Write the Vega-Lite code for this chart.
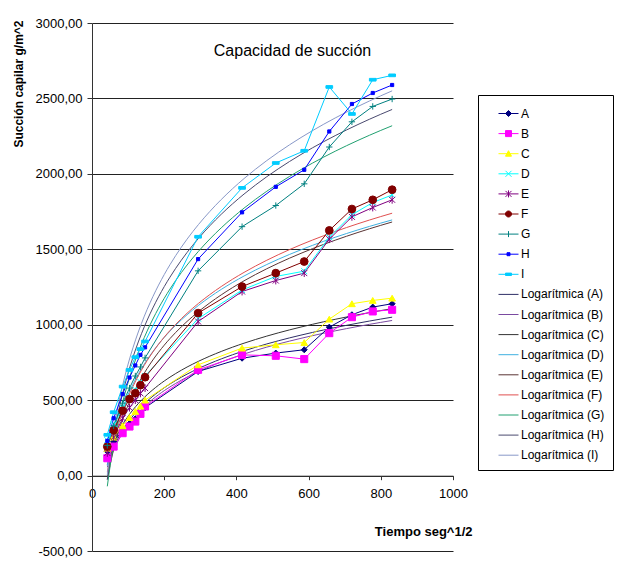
{
  "$schema": "https://vega.github.io/schema/vega-lite/v6.json",
  "width": 361,
  "height": 528,
  "autosize": {"type": "none"},
  "padding": {"left": 92, "top": 23, "right": 168, "bottom": 31},
  "background": "white",
  "config": {"font": "Liberation Sans", "view": {"stroke": null}},
  "title": {"text": "Capacidad de succión", "fontSize": 16, "fontWeight": "normal", "font": "Liberation Sans", "frame": "group", "anchor": "middle", "baseline": "middle", "offset": 0, "dx": 20, "dy": 50, "color": "black"},
  "datasets": {
    "d": [
      {"s":"A","t":"Logarítmica (A)","x":42.4,"y":160},{"s":"A","t":"Logarítmica (A)","x":60,"y":225},{"s":"A","t":"Logarítmica (A)","x":84.9,"y":300},{"s":"A","t":"Logarítmica (A)","x":103.9,"y":343},{"s":"A","t":"Logarítmica (A)","x":120,"y":375},{"s":"A","t":"Logarítmica (A)","x":134.2,"y":410},{"s":"A","t":"Logarítmica (A)","x":147,"y":450},{"s":"A","t":"Logarítmica (A)","x":293.9,"y":690},{"s":"A","t":"Logarítmica (A)","x":415.7,"y":778},{"s":"A","t":"Logarítmica (A)","x":509.1,"y":812},{"s":"A","t":"Logarítmica (A)","x":587.9,"y":834},{"s":"A","t":"Logarítmica (A)","x":657.3,"y":984},{"s":"A","t":"Logarítmica (A)","x":720,"y":1066},{"s":"A","t":"Logarítmica (A)","x":777.7,"y":1117},{"s":"A","t":"Logarítmica (A)","x":831.4,"y":1139},
      {"s":"B","t":"Logarítmica (B)","x":42.4,"y":115},{"s":"B","t":"Logarítmica (B)","x":60,"y":192},{"s":"B","t":"Logarítmica (B)","x":84.9,"y":281},{"s":"B","t":"Logarítmica (B)","x":103.9,"y":325},{"s":"B","t":"Logarítmica (B)","x":120,"y":358},{"s":"B","t":"Logarítmica (B)","x":134.2,"y":409},{"s":"B","t":"Logarítmica (B)","x":147,"y":458},{"s":"B","t":"Logarítmica (B)","x":293.9,"y":701},{"s":"B","t":"Logarítmica (B)","x":415.7,"y":800},{"s":"B","t":"Logarítmica (B)","x":509.1,"y":794},{"s":"B","t":"Logarítmica (B)","x":587.9,"y":772},{"s":"B","t":"Logarítmica (B)","x":657.3,"y":944},{"s":"B","t":"Logarítmica (B)","x":720,"y":1050},{"s":"B","t":"Logarítmica (B)","x":777.7,"y":1088},{"s":"B","t":"Logarítmica (B)","x":831.4,"y":1099},
      {"s":"C","t":"Logarítmica (C)","x":42.4,"y":180},{"s":"C","t":"Logarítmica (C)","x":60,"y":255},{"s":"C","t":"Logarítmica (C)","x":84.9,"y":330},{"s":"C","t":"Logarítmica (C)","x":103.9,"y":385},{"s":"C","t":"Logarítmica (C)","x":120,"y":425},{"s":"C","t":"Logarítmica (C)","x":134.2,"y":460},{"s":"C","t":"Logarítmica (C)","x":147,"y":500},{"s":"C","t":"Logarítmica (C)","x":293.9,"y":734},{"s":"C","t":"Logarítmica (C)","x":415.7,"y":845},{"s":"C","t":"Logarítmica (C)","x":509.1,"y":867},{"s":"C","t":"Logarítmica (C)","x":587.9,"y":882},{"s":"C","t":"Logarítmica (C)","x":657.3,"y":1037},{"s":"C","t":"Logarítmica (C)","x":720,"y":1139},{"s":"C","t":"Logarítmica (C)","x":777.7,"y":1161},{"s":"C","t":"Logarítmica (C)","x":831.4,"y":1176},
      {"s":"D","t":"Logarítmica (D)","x":42.4,"y":235},{"s":"D","t":"Logarítmica (D)","x":60,"y":340},{"s":"D","t":"Logarítmica (D)","x":84.9,"y":450},{"s":"D","t":"Logarítmica (D)","x":103.9,"y":520},{"s":"D","t":"Logarítmica (D)","x":120,"y":570},{"s":"D","t":"Logarítmica (D)","x":134.2,"y":620},{"s":"D","t":"Logarítmica (D)","x":147,"y":660},{"s":"D","t":"Logarítmica (D)","x":293.9,"y":1040},{"s":"D","t":"Logarítmica (D)","x":415.7,"y":1230},{"s":"D","t":"Logarítmica (D)","x":509.1,"y":1320},{"s":"D","t":"Logarítmica (D)","x":587.9,"y":1355},{"s":"D","t":"Logarítmica (D)","x":657.3,"y":1580},{"s":"D","t":"Logarítmica (D)","x":720,"y":1729},{"s":"D","t":"Logarítmica (D)","x":777.7,"y":1810},{"s":"D","t":"Logarítmica (D)","x":831.4,"y":1860},
      {"s":"E","t":"Logarítmica (E)","x":42.4,"y":150},{"s":"E","t":"Logarítmica (E)","x":60,"y":255},{"s":"E","t":"Logarítmica (E)","x":84.9,"y":380},{"s":"E","t":"Logarítmica (E)","x":103.9,"y":450},{"s":"E","t":"Logarítmica (E)","x":120,"y":500},{"s":"E","t":"Logarítmica (E)","x":134.2,"y":545},{"s":"E","t":"Logarítmica (E)","x":147,"y":580},{"s":"E","t":"Logarítmica (E)","x":293.9,"y":1021},{"s":"E","t":"Logarítmica (E)","x":415.7,"y":1220},{"s":"E","t":"Logarítmica (E)","x":509.1,"y":1293},{"s":"E","t":"Logarítmica (E)","x":587.9,"y":1342},{"s":"E","t":"Logarítmica (E)","x":657.3,"y":1567},{"s":"E","t":"Logarítmica (E)","x":720,"y":1715},{"s":"E","t":"Logarítmica (E)","x":777.7,"y":1777},{"s":"E","t":"Logarítmica (E)","x":831.4,"y":1828},
      {"s":"F","t":"Logarítmica (F)","x":42.4,"y":192},{"s":"F","t":"Logarítmica (F)","x":60,"y":300},{"s":"F","t":"Logarítmica (F)","x":84.9,"y":430},{"s":"F","t":"Logarítmica (F)","x":103.9,"y":507},{"s":"F","t":"Logarítmica (F)","x":120,"y":546},{"s":"F","t":"Logarítmica (F)","x":134.2,"y":599},{"s":"F","t":"Logarítmica (F)","x":147,"y":652},{"s":"F","t":"Logarítmica (F)","x":293.9,"y":1077},{"s":"F","t":"Logarítmica (F)","x":415.7,"y":1253},{"s":"F","t":"Logarítmica (F)","x":509.1,"y":1342},{"s":"F","t":"Logarítmica (F)","x":587.9,"y":1419},{"s":"F","t":"Logarítmica (F)","x":657.3,"y":1625},{"s":"F","t":"Logarítmica (F)","x":720,"y":1767},{"s":"F","t":"Logarítmica (F)","x":777.7,"y":1828},{"s":"F","t":"Logarítmica (F)","x":831.4,"y":1895},
      {"s":"G","t":"Logarítmica (G)","x":42.4,"y":200},{"s":"G","t":"Logarítmica (G)","x":60,"y":330},{"s":"G","t":"Logarítmica (G)","x":84.9,"y":480},{"s":"G","t":"Logarítmica (G)","x":103.9,"y":580},{"s":"G","t":"Logarítmica (G)","x":120,"y":660},{"s":"G","t":"Logarítmica (G)","x":134.2,"y":720},{"s":"G","t":"Logarítmica (G)","x":147,"y":780},{"s":"G","t":"Logarítmica (G)","x":293.9,"y":1357},{"s":"G","t":"Logarítmica (G)","x":415.7,"y":1650},{"s":"G","t":"Logarítmica (G)","x":509.1,"y":1790},{"s":"G","t":"Logarítmica (G)","x":587.9,"y":1934},{"s":"G","t":"Logarítmica (G)","x":657.3,"y":2178},{"s":"G","t":"Logarítmica (G)","x":720,"y":2345},{"s":"G","t":"Logarítmica (G)","x":777.7,"y":2447},{"s":"G","t":"Logarítmica (G)","x":831.4,"y":2496},
      {"s":"H","t":"Logarítmica (H)","x":42.4,"y":230},{"s":"H","t":"Logarítmica (H)","x":60,"y":380},{"s":"H","t":"Logarítmica (H)","x":84.9,"y":540},{"s":"H","t":"Logarítmica (H)","x":103.9,"y":650},{"s":"H","t":"Logarítmica (H)","x":120,"y":730},{"s":"H","t":"Logarítmica (H)","x":134.2,"y":800},{"s":"H","t":"Logarítmica (H)","x":147,"y":850},{"s":"H","t":"Logarítmica (H)","x":293.9,"y":1435},{"s":"H","t":"Logarítmica (H)","x":415.7,"y":1745},{"s":"H","t":"Logarítmica (H)","x":509.1,"y":1914},{"s":"H","t":"Logarítmica (H)","x":587.9,"y":2027},{"s":"H","t":"Logarítmica (H)","x":657.3,"y":2281},{"s":"H","t":"Logarítmica (H)","x":720,"y":2463},{"s":"H","t":"Logarítmica (H)","x":777.7,"y":2536},{"s":"H","t":"Logarítmica (H)","x":831.4,"y":2589},
      {"s":"I","t":"Logarítmica (I)","x":42.4,"y":270},{"s":"I","t":"Logarítmica (I)","x":60,"y":420},{"s":"I","t":"Logarítmica (I)","x":84.9,"y":590},{"s":"I","t":"Logarítmica (I)","x":103.9,"y":700},{"s":"I","t":"Logarítmica (I)","x":120,"y":785},{"s":"I","t":"Logarítmica (I)","x":134.2,"y":838},{"s":"I","t":"Logarítmica (I)","x":147,"y":889},{"s":"I","t":"Logarítmica (I)","x":293.9,"y":1583},{"s":"I","t":"Logarítmica (I)","x":415.7,"y":1907},{"s":"I","t":"Logarítmica (I)","x":509.1,"y":2072},{"s":"I","t":"Logarítmica (I)","x":587.9,"y":2153},{"s":"I","t":"Logarítmica (I)","x":657.3,"y":2576},{"s":"I","t":"Logarítmica (I)","x":720,"y":2397},{"s":"I","t":"Logarítmica (I)","x":777.7,"y":2624},{"s":"I","t":"Logarítmica (I)","x":831.4,"y":2653}
    ]
  },
  "data": {"name": "d"},
  "encoding": {
    "x": {"field": "x", "type": "quantitative", "scale": {"domain": [0, 1000], "nice": false},
      "axis": {"values": [0, 200, 400, 600, 800, 1000], "format": "d", "offset": -75.3, "grid": false, "labelFontSize": 13, "labelColor": "black", "labelPadding": 8, "labelFlush": false, "tickSize": 4, "tickColor": "#333", "domainColor": "#333",
        "title": "Tiempo seg^1/2", "titleFontSize": 13, "titleFontWeight": "bold", "titleColor": "black", "titleX": 380, "titleY": 56, "titleAlign": "right", "titleBaseline": "middle"}},
    "y": {"field": "y", "type": "quantitative", "scale": {"domain": [-500, 3000], "nice": false},
      "axis": {"values": [-500, 0, 500, 1000, 1500, 2000, 2500, 3000], "labelExpr": "replace(replace(format(datum.value,'.2f'),'.',','),'\u2212','-')", "labelFontSize": 13, "labelColor": "black", "labelPadding": 5, "tickSize": 5, "tickColor": "#333", "domainColor": "#333", "grid": true, "gridColor": "#222", "gridOpacity": 1,
        "title": "Succión capilar g/m^2", "titleFontSize": 12, "titleFontWeight": "bold", "titleColor": "black", "titleX": -74, "titleY": -3, "titleAngle": 270, "titleAlign": "right", "titleBaseline": "middle"}}
  },
  "layer": [
    {
      "transform": [{"regression": "y", "on": "x", "method": "log", "groupby": ["t"]}],
      "mark": {"type": "line", "strokeWidth": 1},
      "encoding": {"color": {"field": "t", "type": "nominal"}}
    },
    {
      "mark": {"type": "line", "strokeWidth": 1},
      "encoding": {
        "order": {"field": "x", "type": "quantitative"},
        "color": {"field": "s", "type": "nominal",
          "scale": {
            "domain": ["A","B","C","D","E","F","G","H","I","Logarítmica (A)","Logarítmica (B)","Logarítmica (C)","Logarítmica (D)","Logarítmica (E)","Logarítmica (F)","Logarítmica (G)","Logarítmica (H)","Logarítmica (I)"],
            "range": ["#000080","#FF00FF","#FFFF00","#00FFFF","#800080","#800000","#008080","#0000FF","#00CCFF","#2e2e66","#7a4aa0","#333333","#3fb0e0","#5a3535","#e05050","#20a070","#4a4a70","#8898c8"]
          },
          "legend": {
            "orient": "none", "legendX": 386, "legendY": 72, "title": null, "strokeColor": "black", "fillColor": "white", "padding": 8,
            "symbolSize": 400, "symbolStrokeWidth": 1, "symbolOffset": 12, "labelOffset": 2, "rowPadding": 3.1,
            "labelFont": "Liberation Sans", "labelFontSize": 12, "labelColor": "black", "symbolLimit": 50,
            "encode": {"symbols": {"update": {
              "shape": {"signal": "datum.value==='A'?'M-1,0H1M0,-0.3L0.3,0L0,0.3L-0.3,0Z':datum.value==='B'?'M-1,0H1M-0.3,-0.3H0.3V0.3H-0.3Z':datum.value==='C'?'M-1,0H1M0,-0.3L0.3,0.25H-0.3Z':datum.value==='D'?'M-1,0H1M-0.3,-0.3L0.3,0.3M-0.3,0.3L0.3,-0.3':datum.value==='E'?'M-1,0H1M-0.3,-0.3L0.3,0.3M-0.3,0.3L0.3,-0.3M0,-0.35V0.35':datum.value==='F'?'M-1,0H1M-0.3,0A0.3,0.3,0,1,0,0.3,0A0.3,0.3,0,1,0,-0.3,0Z':datum.value==='G'?'M-1,0H1M0,-0.3V0.3':datum.value==='H'?'M-1,0H1M-0.15,-0.15H0.15V0.15H-0.15Z':datum.value==='I'?'M-1,0H1M-0.3,-0.12H0.3V0.12H-0.3Z':'M-1,0H1'"},
              "fill": {"signal": "length(datum.value)>1?'transparent':scale('color',datum.value)"},
              "stroke": {"signal": "scale('color',datum.value)"},
              "strokeWidth": {"value": 1},
              "opacity": {"value": 1}
            }}}
          }
        }
      }
    },
    {
      "mark": {"type": "point", "filled": true, "strokeWidth": 1, "opacity": 1},
      "encoding": {
        "shape": {"field": "s", "type": "nominal", "legend": null,
          "scale": {"domain": ["A","B","C","D","E","F","G","H","I"],
            "range": ["diamond","square","triangle-up","M-1,-1L1,1M-1,1L1,-1","M-1,-1L1,1M-1,1L1,-1M0,-1.3L0,1.3","circle","M-1,0L1,0M0,-1L0,1","square","M-1,-0.4H1V0.4H-1Z"]}},
        "size": {"field": "s", "type": "nominal", "legend": null,
          "scale": {"type": "ordinal", "domain": ["A","B","C","D","E","F","G","H","I"], "range": [36,50,45,36,36,60,40,10,45]}},
        "fill": {"field": "s", "type": "nominal", "legend": null,
          "scale": {"domain": ["A","B","C","D","E","F","G","H","I"], "range": ["#000080","#FF00FF","#FFFF00","#00FFFF","#800080","#800000","#008080","#0000FF","#00CCFF"]}},
        "stroke": {"field": "s", "type": "nominal", "legend": null,
          "scale": {"domain": ["A","B","C","D","E","F","G","H","I"], "range": ["#000080","#FF00FF","#FFFF00","#00FFFF","#800080","#800000","#008080","#0000FF","#00CCFF"]}}
      }
    }
  ]
}
